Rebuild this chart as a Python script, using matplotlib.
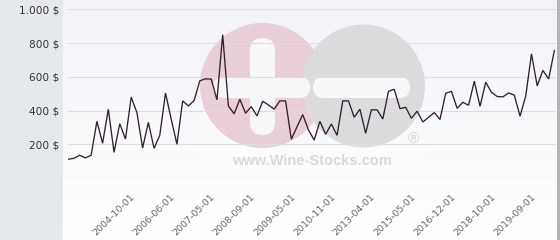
import numpy as np
import matplotlib
matplotlib.use("Agg")
import matplotlib.pyplot as plt
from matplotlib.patches import Rectangle, Circle, FancyBboxPatch
from matplotlib.transforms import ScaledTranslation

# ---------------- data ----------------
prices = [111, 117, 135, 119, 135, 336, 206, 408, 152, 322,
          231, 479, 388, 178, 330, 176, 253, 504, 348, 200,
          457, 427, 459, 576, 588, 586, 463, 849, 427, 380,
          467, 384, 423, 368, 455, 433, 408, 457, 457, 230,
          304, 376, 285, 225, 336, 259, 320, 253, 457, 457,
          360, 408, 265, 404, 404, 350, 514, 526, 411, 419,
          354, 396, 332, 360, 388, 347, 502, 514, 413, 449,
          431, 574, 425, 568, 508, 483, 481, 504, 491, 366,
          487, 736, 546, 638, 587, 755]

labelled_dates = {10: "2004-10-01", 17: "2006-06-01", 24: "2007-05-01",
                  31: "2008-09-01", 38: "2009-05-01", 45: "2010-11-01",
                  52: "2013-04-01", 59: "2015-05-01", 66: "2016-12-01",
                  73: "2018-10-01", 80: "2019-09-01"}
categories = [labelled_dates.get(i, "") for i in range(len(prices))]

y_ticks = [0, 200, 400, 600, 800, 1000]
y_tick_labels = ["", "200 $", "400 $", "600 $", "800 $", "1.000 $"]

# ---------------- figure ----------------
W, H = 560, 240
fig = plt.figure(figsize=(W / 100, H / 100), dpi=100)

def px(x, y):
    """pixel (from top-left) -> inches from bottom-left"""
    return x / 100, (H - y) / 100

# background gradient
bg = fig.add_axes([0, 0, 1, 1], zorder=-10)
grad = np.linspace(0, 1, 256).reshape(-1, 1)
top = np.array([0xf2, 0xf3, 0xf8]) / 255
bot = np.array([0xff, 0xff, 0xff]) / 255
img = top[None, None, :] * (1 - grad[:, :, None]) + bot[None, None, :] * grad[:, :, None]
bg.imshow(img, aspect="auto", extent=[0, 1, 0, 1], origin="upper")
bg.set_axis_off()

# left panel and right stripe
fig.patches.append(Rectangle((0, 0), 62.7 / W, 1, transform=fig.transFigure,
                             facecolor="#e6e9ec", edgecolor="none", zorder=-5))
fig.patches.append(Rectangle((557.3 / W, 0), 1, 1, transform=fig.transFigure,
                             facecolor="#b4b4b4", edgecolor="none", zorder=-5))

# watermark
tr = fig.dpi_scale_trans
def add(p):
    p.set_transform(tr)
    fig.patches.append(p)

add(Rectangle(px(197, 172), 230 / 100, 24 / 100, facecolor="#ffffff",
              edgecolor="none", alpha=0.35, zorder=-4))
add(Circle(px(262.5, 85.5), 62.5 / 100, facecolor="#e9cfd7", edgecolor="none", zorder=-4))
add(Circle(px(363.5, 86), 61.5 / 100, facecolor="#dcdcde", edgecolor="none", zorder=-4))
white = "#f7f7fa"
# plus
x0, y0 = px(250, 135)
add(FancyBboxPatch((x0, y0), 25 / 100, 97 / 100,
                   boxstyle="round,pad=0,rounding_size=0.125",
                   facecolor=white, edgecolor="none", zorder=-3))
x0, y0 = px(213, 98)
add(FancyBboxPatch((x0, y0), 97 / 100, 21 / 100,
                   boxstyle="round,pad=0,rounding_size=0.105",
                   facecolor=white, edgecolor="none", zorder=-3))
# minus
x0, y0 = px(313, 98)
add(FancyBboxPatch((x0, y0), 97 / 100, 21 / 100,
                   boxstyle="round,pad=0,rounding_size=0.105",
                   facecolor=white, edgecolor="none", zorder=-3))
tx, ty = px(312, 161)
fig.text(tx, ty, "www.Wine-Stocks.com", transform=tr, ha="center", va="center",
         fontsize=10.5, fontweight="bold", family="Liberation Sans",
         color="#dadada", zorder=-2)
tx, ty = px(413, 139)
fig.text(tx, ty, "®", transform=tr, ha="center", va="center",
         fontsize=11, family="Liberation Sans",
         color="#d4d4d4", zorder=-2)

# main axes
left, right = 68, 555.5
top_px, bot_px = 9.3, 178
ax = fig.add_axes([left / W, (H - bot_px) / H, (right - left) / W, (bot_px - top_px) / H])
ax.set_facecolor("none")
x = np.arange(len(prices))
ax.plot(x, prices, color="#33202e", lw=0.95, solid_joinstyle="miter", zorder=3)
ax.set_xlim(-0.05, len(prices) - 1 + 0.2)
ax.set_ylim(0, 1000)

for s in ax.spines.values():
    s.set_visible(False)

ax.set_yticks(y_ticks)
ax.set_yticklabels(y_tick_labels, fontsize=7.6, color="#333333", family="DejaVu Sans")
ax.tick_params(axis="y", length=0, pad=6.5)
ax.yaxis.grid(True, color="#dedede", lw=0.8)
ax.set_axisbelow(True)

tick_pos = [i for i, c in enumerate(categories) if c]
ax.set_xticks(tick_pos)
ax.set_xticklabels([categories[i] for i in tick_pos], rotation=45, ha="right",
                   va="top", rotation_mode="anchor", fontsize=6.8, color="#666666",
                   family="DejaVu Sans")
ax.tick_params(axis="x", length=0, pad=10)
off = ScaledTranslation(5 / 100, 0, fig.dpi_scale_trans)
for lab in ax.get_xticklabels():
    lab.set_transform(lab.get_transform() + off)

fig.savefig("out.png", dpi=100)
